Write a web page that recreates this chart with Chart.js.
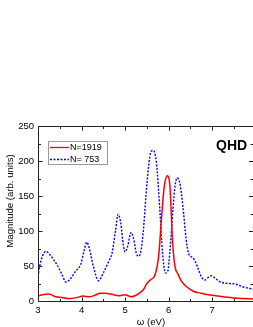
<!DOCTYPE html>
<html>
<head>
<meta charset="utf-8">
<script src="https://cdn.jsdelivr.net/npm/chart.js@4.4.0/dist/chart.umd.min.js"></script>
<style>
  html, body { margin: 0; padding: 0; background: #fff; }
  #wrap { width: 253px; height: 327px; }
</style>
</head>
<body>
<div id="wrap"><canvas id="chart" width="253" height="327"></canvas></div>
<script>
// Данные (энергия в эВ, амплитуда в отн. ед.)
const energyN1919 = [3.0, 3.1, 3.25, 3.4, 3.55, 3.72, 3.9, 4.03, 4.18, 4.3, 4.43, 4.55, 4.7, 4.85, 5.0, 5.14, 5.3, 5.42, 5.5, 5.6, 5.68, 5.77, 5.84, 5.9, 5.97, 6.03, 6.09, 6.14, 6.22, 6.3, 6.4, 6.57, 6.75, 6.95, 7.15, 7.35, 7.6, 7.94];
const magN1919 = [7, 9, 10, 6, 5, 3.5, 5, 7, 6, 8, 11, 11, 9.5, 7.5, 9, 6, 10, 16, 25, 31, 36, 63, 120, 163, 179, 165, 87, 52, 38, 28, 21, 14, 11, 8.5, 7, 5.5, 4, 3];

const energyN753 = [3.0, 3.04, 3.1, 3.18, 3.3, 3.45, 3.55, 3.64, 3.72, 3.87, 3.98, 4.06, 4.12, 4.18, 4.27, 4.39, 4.5, 4.62, 4.7, 4.78, 4.84, 4.9, 4.96, 5.0, 5.06, 5.14, 5.2, 5.26, 5.31, 5.36, 5.42, 5.48, 5.54, 5.6, 5.65, 5.72, 5.8, 5.86, 5.93, 5.98, 6.03, 6.1, 6.15, 6.2, 6.26, 6.33, 6.4, 6.46, 6.55, 6.6, 6.68, 6.76, 6.84, 6.92, 6.99, 7.06, 7.14, 7.25, 7.4, 7.55, 7.72, 7.94];
const magN753 = [35, 50, 64, 71, 64, 50, 38, 27, 30, 43, 52, 72, 84, 75, 50, 29, 40, 56, 68, 100, 124, 112, 80, 70, 78, 98, 88, 68, 64, 70, 100, 150, 192, 214, 215, 198, 130, 70, 40, 42, 70, 130, 165, 176, 168, 135, 90, 68, 62, 58, 46, 34, 30, 34, 36, 33, 29, 26, 25, 24, 20, 17];

const xTicks = [3, 4, 5, 6, 7];
const xMinorTicks = [3.5, 4.5, 5.5, 6.5, 7.5];
const yTicks = [0, 50, 100, 150, 200, 250];
const yMinorTicks = [25, 75, 125, 175, 225];

const xTitle = 'ω (eV)';
const yTitle = 'Magnitude (arb. units)';

const FONT = '"Liberation Sans", Arial, sans-serif';

function toPoints(xs, ys) {
    return xs.map((x, i) => ({ x: x, y: ys[i] }));
}

// Рамка, внутренние засечки, подписи осей, легенда и QHD
const framePlugin = {
    id: 'frame',
    afterDraw(chart) {
        const ctx = chart.ctx;
        const a = chart.chartArea;
        const xs = chart.scales.x, ys = chart.scales.y;
        ctx.save();
        ctx.strokeStyle = '#222';
        ctx.lineWidth = 1;
        const L = Math.round(a.left) + 0.5, T = Math.round(a.top) + 0.5, B = Math.round(a.bottom) + 0.5, R = 253;
        ctx.beginPath();
        ctx.moveTo(L, T); ctx.lineTo(R, T);
        ctx.moveTo(L, T); ctx.lineTo(L, B);
        ctx.moveTo(L, B); ctx.lineTo(R, B);
        // засечки по X
        const tickX = (v, len) => {
            const px = Math.round(xs.getPixelForValue(v)) + 0.5;
            ctx.moveTo(px, B); ctx.lineTo(px, B - len);
            ctx.moveTo(px, T); ctx.lineTo(px, T + len);
        };
        xTicks.forEach(v => tickX(v, 4));
        xMinorTicks.forEach(v => tickX(v, 2.5));
        // засечки по Y
        const tickY = (v, len) => {
            const py = Math.round(ys.getPixelForValue(v)) + 0.5;
            ctx.moveTo(L, py); ctx.lineTo(L + len, py);
            ctx.moveTo(R, py); ctx.lineTo(R - len, py);
        };
        yTicks.forEach(v => tickY(v, 4));
        yMinorTicks.forEach(v => tickY(v, 2.5));
        ctx.stroke();

        // подписи осей
        ctx.fillStyle = '#000';
        ctx.font = '9.6px ' + FONT;
        ctx.textAlign = 'center';
        ctx.textBaseline = 'middle';
        ctx.fillText(xTitle, 151, 322);
        ctx.save();
        ctx.translate(10, 201);
        ctx.rotate(-Math.PI / 2);
        ctx.fillText(yTitle, 0, 0);
        ctx.restore();

        // легенда
        ctx.strokeStyle = '#999';
        ctx.strokeRect(48.5, 141.5, 59, 23);
        ctx.lineWidth = 1.3;
        ctx.strokeStyle = '#ff0000';
        ctx.beginPath(); ctx.moveTo(50, 147.5); ctx.lineTo(69, 147.5); ctx.stroke();
        ctx.strokeStyle = '#0000ff';
        ctx.setLineDash([2, 1.5]);
        ctx.beginPath(); ctx.moveTo(50, 159.5); ctx.lineTo(69, 159.5); ctx.stroke();
        ctx.setLineDash([]);
        ctx.font = '9px ' + FONT;
        ctx.textAlign = 'left';
        ctx.fillText(chart.data.datasets[0].label, 70, 147.5);
        ctx.fillText(chart.data.datasets[1].label, 70, 159.5);

        ctx.font = 'bold 14px ' + FONT;
        ctx.fillText('QHD', 216, 146);
        ctx.restore();
    }
};

const ctx = document.getElementById('chart').getContext('2d');
const chart = new Chart(ctx, {
    type: 'line',
    data: {
        datasets: [
            {
                label: 'N=1919',
                data: toPoints(energyN1919, magN1919),
                borderColor: '#ff0000',
                borderWidth: 1.5,
                pointRadius: 0,
                fill: false,
                cubicInterpolationMode: 'monotone'
            },
            {
                label: 'N= 753',
                data: toPoints(energyN753, magN753),
                borderColor: '#0000ff',
                borderWidth: 1.4,
                borderDash: [2, 1.5],
                pointRadius: 0,
                fill: false,
                cubicInterpolationMode: 'monotone'
            }
        ]
    },
    plugins: [framePlugin],
    options: {
        responsive: false,
        animation: false,
        events: [],
        layout: { padding: { top: 126, left: 0, right: 0, bottom: 0 } },
        plugins: { legend: { display: false }, tooltip: { enabled: false } },
        scales: {
            x: {
                type: 'linear',
                min: 3,
                max: 7.94,
                afterBuildTicks: s => { s.ticks = xTicks.map(v => ({ value: v })); },
                afterFit: s => { s.height = 26; },
                grid: { display: false, drawTicks: false },
                border: { display: false },
                ticks: { padding: 4, color: '#000', font: { family: FONT, size: 9.5 }, maxRotation: 0 },
                title: { display: false }
            },
            y: {
                min: 0,
                max: 250,
                afterBuildTicks: s => { s.ticks = yTicks.map(v => ({ value: v })); },
                afterFit: s => { s.width = 38; },
                grid: { display: false, drawTicks: false },
                border: { display: false },
                ticks: { padding: 4, color: '#000', font: { family: FONT, size: 9.5 } },
                title: { display: false }
            }
        }
    }
});
</script>
</body>
</html>
